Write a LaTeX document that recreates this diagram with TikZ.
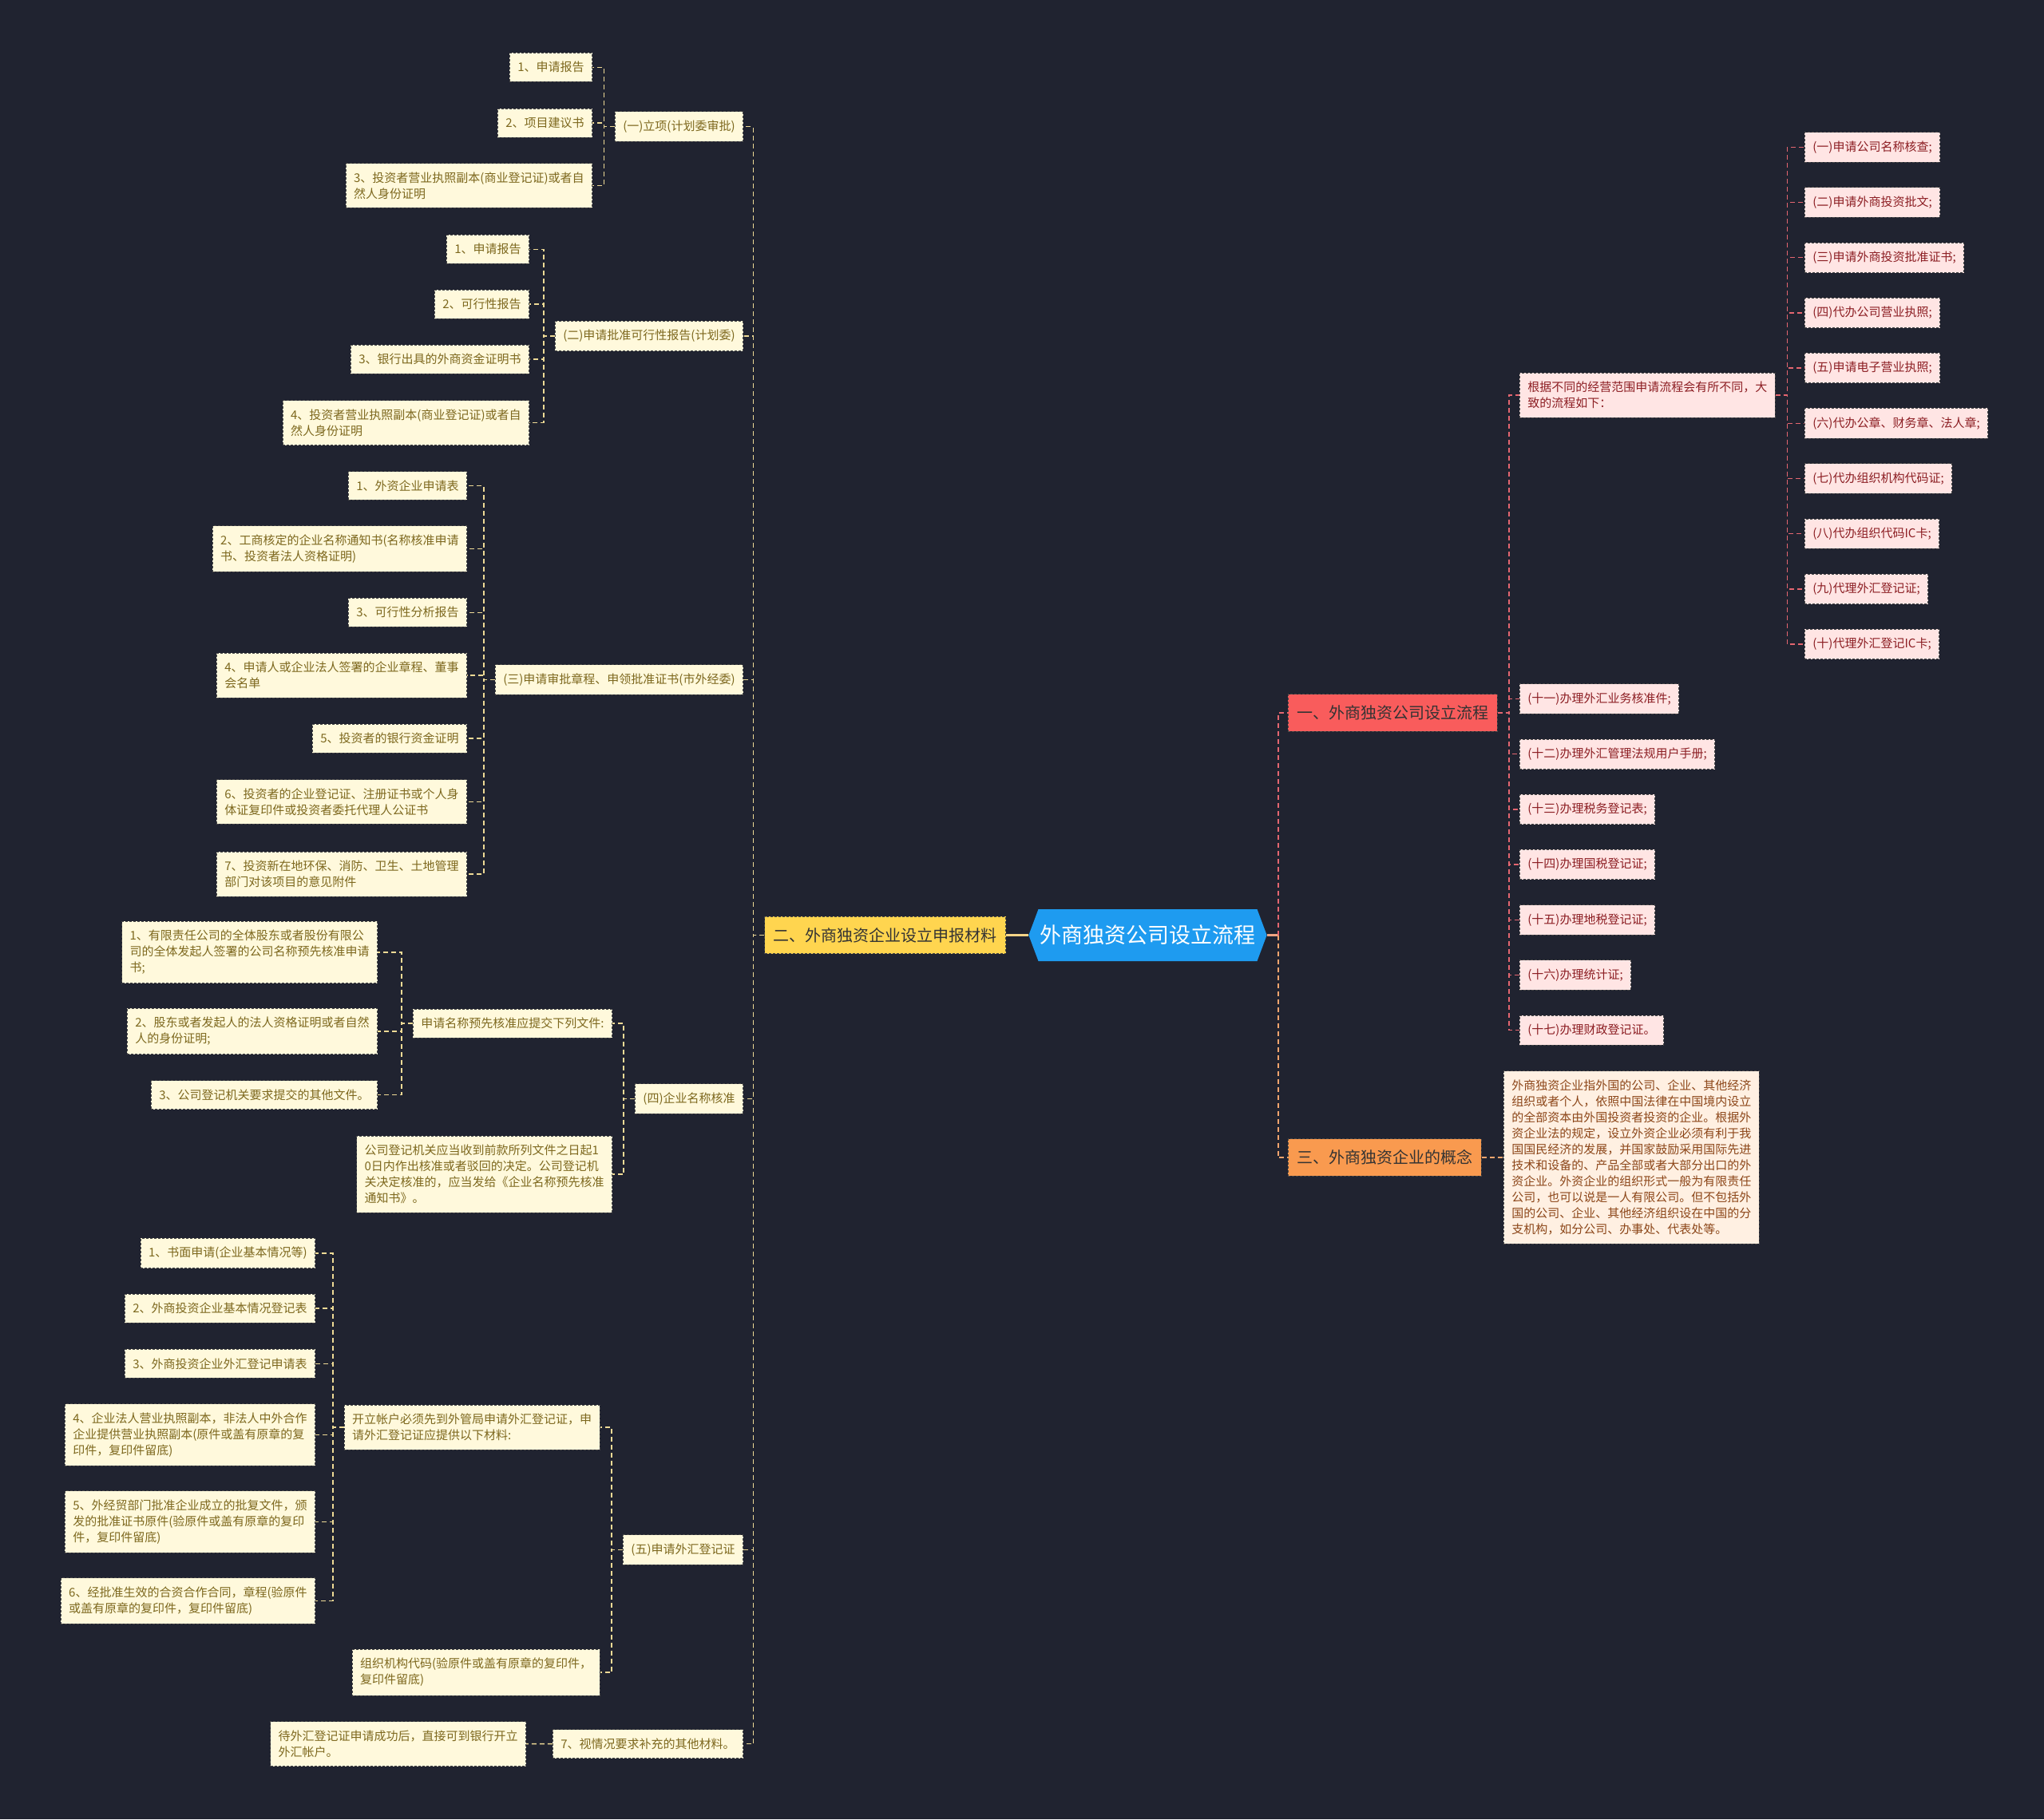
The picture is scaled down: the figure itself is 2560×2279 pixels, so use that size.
\documentclass[tikz,border=0pt]{standalone}
\usepackage{fontspec}
\newfontfamily\cjk{Noto Sans CJK SC}
\usepackage{tikz}
\usetikzlibrary{positioning, shapes.symbols}
\definecolor{bgc}{RGB}{32,35,48}
\definecolor{yfill}{RGB}{255,249,220}
\definecolor{ytext}{RGB}{125,104,30}
\definecolor{yline}{RGB}{238,218,150}
\definecolor{ytop}{RGB}{255,213,79}
\definecolor{rfill}{RGB}{255,229,228}
\definecolor{rtext}{RGB}{140,30,35}
\definecolor{rline}{RGB}{228,102,112}
\definecolor{rtop}{RGB}{249,92,92}
\definecolor{ofill}{RGB}{255,240,226}
\definecolor{otext}{RGB}{140,70,25}
\definecolor{oline}{RGB}{245,165,110}
\definecolor{otop}{RGB}{249,154,79}
\definecolor{rootc}{RGB}{30,155,240}
\definecolor{edgec}{RGB}{70,70,70}
\tikzstyle{leafy} = [
rectangle,
draw=edgec,
line width=0.8pt,
dash pattern=on 3pt off 2pt,
fill=yfill,
text=ytext,
font=\cjk\fontsize{15}{20}\selectfont,
align=left,
inner xsep=10pt,
inner ysep=11pt
]
\tikzstyle{leafr} = [leafy, fill=rfill, text=rtext]
\tikzstyle{leafo} = [leafy, fill=ofill, text=otext]
\tikzstyle{topbox} = [
rectangle,
draw=edgec,
line width=0.8pt,
dash pattern=on 3pt off 2pt,
text=black!80,
font=\cjk\fontsize{20}{24}\selectfont,
inner xsep=11pt,
inner ysep=14pt
]
\tikzstyle{rootbox} = [signal,
signal to=east and west,
signal pointer angle=139,
fill=rootc, text=white,
font=\cjk\fontsize{27}{32}\selectfont,
minimum height=65pt,
inner xsep=2pt]
\tikzstyle{linky} = [draw=yline, line width=1.5pt, dash pattern=on 6pt off 4pt]
\tikzstyle{linkr} = [linky, draw=rline]
\tikzstyle{linko} = [linky, draw=oline]

\begin{document}
\begin{tikzpicture}[x=1pt, y=-1pt]
      \fill [bgc] (0,0) rectangle (2560,2279);
      \node (root) [rootbox] at (1437.5,1171.5) {外商独资公司设立流程};
      \node (lvl2) [topbox, fill=ytop, left=28pt of root] {二、外商独资企业设立申报材料};
      \node (lvl1) [topbox, fill=rtop, anchor=west] at (1613,893) {一、外商独资公司设立流程};
      \node (lvl3) [topbox, fill=otop, anchor=west] at (1613,1450) {三、外商独资企业的概念};
      % left side
      \node (s1) [leafy, anchor=east] at (931,158.4) {(一)立项(计划委审批)};
      \node (s2) [leafy, anchor=east] at (931,421) {(二)申请批准可行性报告(计划委)};
      \node (s3) [leafy, anchor=east] at (931,851.5) {(三)申请审批章程、申领批准证书(市外经委)};
      \node (s4) [leafy, anchor=east] at (931,1376.5) {(四)企业名称核准};
      \node (s5) [leafy, anchor=east] at (931,1941.5) {(五)申请外汇登记证};
      \node (s6) [leafy, anchor=east] at (931,2184.7) {7、视情况要求补充的其他材料。};
      \node (s1a) [leafy, anchor=east] at (742,84.3) {1、申请报告};
      \node (s1b) [leafy, anchor=east] at (742,154) {2、项目建议书};
      \node (s1c) [leafy, anchor=east] at (742,232.5) {3、投资者营业执照副本(商业登记证)或者自\\然人身份证明};
      \node (s2a) [leafy, anchor=east] at (663,312.3) {1、申请报告};
      \node (s2b) [leafy, anchor=east] at (663,381) {2、可行性报告};
      \node (s2c) [leafy, anchor=east] at (663,450) {3、银行出具的外商资金证明书};
      \node (s2d) [leafy, anchor=east] at (663,529.5) {4、投资者营业执照副本(商业登记证)或者自\\然人身份证明};
      \node (s3a) [leafy, anchor=east] at (585,608.5) {1、外资企业申请表};
      \node (s3b) [leafy, anchor=east] at (585,687.5) {2、工商核定的企业名称通知书(名称核准申请\\书、投资者法人资格证明)};
      \node (s3c) [leafy, anchor=east] at (585,767.3) {3、可行性分析报告};
      \node (s3d) [leafy, anchor=east] at (585,846) {4、申请人或企业法人签署的企业章程、董事\\会名单};
      \node (s3e) [leafy, anchor=east] at (585,925) {5、投资者的银行资金证明};
      \node (s3f) [leafy, anchor=east] at (585,1004.5) {6、投资者的企业登记证、注册证书或个人身\\体证复印件或投资者委托代理人公证书};
      \node (s3g) [leafy, anchor=east] at (585,1095) {7、投资新在地环保、消防、卫生、土地管理\\部门对该项目的意见附件};
      \node (s4a) [leafy, anchor=east] at (767,1282) {申请名称预先核准应提交下列文件:};
      \node (s4b) [leafy, anchor=east] at (767,1471) {公司登记机关应当收到前款所列文件之日起1\\0日内作出核准或者驳回的决定。公司登记机\\关决定核准的，应当发给《企业名称预先核准\\通知书》。};
      \node (s4a1) [leafy, anchor=east] at (473,1193) {1、有限责任公司的全体股东或者股份有限公\\司的全体发起人签署的公司名称预先核准申请\\书;};
      \node (s4a2) [leafy, anchor=east] at (473,1292) {2、股东或者发起人的法人资格证明或者自然\\人的身份证明;};
      \node (s4a3) [leafy, anchor=east] at (473,1371.5) {3、公司登记机关要求提交的其他文件。};
      \node (s5a) [leafy, anchor=east] at (751.6,1788) {开立帐户必须先到外管局申请外汇登记证，申\\请外汇登记证应提供以下材料:};
      \node (s5b) [leafy, anchor=east] at (751.6,2095) {组织机构代码(验原件或盖有原章的复印件，\\复印件留底)};
      \node (s5a1) [leafy, anchor=east] at (395,1570) {1、书面申请(企业基本情况等)};
      \node (s5a2) [leafy, anchor=east] at (395,1639) {2、外商投资企业基本情况登记表};
      \node (s5a3) [leafy, anchor=east] at (395,1708.3) {3、外商投资企业外汇登记申请表};
      \node (s5a4) [leafy, anchor=east] at (395,1797.5) {4、企业法人营业执照副本，非法人中外合作\\企业提供营业执照副本(原件或盖有原章的复\\印件，复印件留底)};
      \node (s5a5) [leafy, anchor=east] at (395,1906.5) {5、外经贸部门批准企业成立的批复文件，颁\\发的批准证书原件(验原件或盖有原章的复印\\件，复印件留底)};
      \node (s5a6) [leafy, anchor=east] at (395,2005.5) {6、经批准生效的合资合作合同，章程(验原件\\或盖有原章的复印件，复印件留底)};
      \node (s6a) [leafy, anchor=east] at (659,2184.5) {待外汇登记证申请成功后，直接可到银行开立\\外汇帐户。};
      % right side
      \node (r1a) [leafr, anchor=west] at (1903,495) {根据不同的经营范围申请流程会有所不同，大\\致的流程如下：};
      \node (r11) [leafr, anchor=west] at (1903,875.5) {(十一)办理外汇业务核准件;};
      \node (r12) [leafr, anchor=west] at (1903,944.7) {(十二)办理外汇管理法规用户手册;};
      \node (r13) [leafr, anchor=west] at (1903,1013.9) {(十三)办理税务登记表;};
      \node (r14) [leafr, anchor=west] at (1903,1083.1) {(十四)办理国税登记证;};
      \node (r15) [leafr, anchor=west] at (1903,1152.3) {(十五)办理地税登记证;};
      \node (r16) [leafr, anchor=west] at (1903,1221.5) {(十六)办理统计证;};
      \node (r17) [leafr, anchor=west] at (1903,1290.7) {(十七)办理财政登记证。};
      \node (p1) [leafr, anchor=west] at (2260,184.3) {(一)申请公司名称核查;};
      \node (p2) [leafr, anchor=west] at (2260,253.5) {(二)申请外商投资批文;};
      \node (p3) [leafr, anchor=west] at (2260,322.7) {(三)申请外商投资批准证书;};
      \node (p4) [leafr, anchor=west] at (2260,391.9) {(四)代办公司营业执照;};
      \node (p5) [leafr, anchor=west] at (2260,461.1) {(五)申请电子营业执照;};
      \node (p6) [leafr, anchor=west] at (2260,530.3) {(六)代办公章、财务章、法人章;};
      \node (p7) [leafr, anchor=west] at (2260,599.5) {(七)代办组织机构代码证;};
      \node (p8) [leafr, anchor=west] at (2260,668.7) {(八)代办组织代码IC卡;};
      \node (p9) [leafr, anchor=west] at (2260,737.9) {(九)代理外汇登记证;};
      \node (p10) [leafr, anchor=west] at (2260,807.1) {(十)代理外汇登记IC卡;};
      \node (r3a) [leafo, anchor=west] at (1883,1450) {外商独资企业指外国的公司、企业、其他经济\\组织或者个人，依照中国法律在中国境内设立\\的全部资本由外国投资者投资的企业。根据外\\资企业法的规定，设立外资企业必须有利于我\\国国民经济的发展，并国家鼓励采用国际先进\\技术和设备的、产品全部或者大部分出口的外\\资企业。外资企业的组织形式一般为有限责任\\公司，也可以说是一人有限公司。但不包括外\\国的公司、企业、其他经济组织设在中国的分\\支机构，如分公司、办事处、代表处等。};
      % links
      \draw [draw={rgb,255:red,245;green,212;blue,135}, line width=2.5pt] (root.west) -- (lvl2.east);
      \draw [draw={rgb,255:red,240;green,165;blue,130}, line width=2.5pt] (root.east) -- ++(14,0) coordinate (rj);
      \draw [linkr] (rj) |- (lvl1.west);
      \draw [linko] (rj) |- (lvl3.west);
      \draw [linky] (lvl2.west) -- ++(-14,0) |- (s1.east);
      \draw [linky] (lvl2.west) -- ++(-14,0) |- (s2.east);
      \draw [linky] (lvl2.west) -- ++(-14,0) |- (s3.east);
      \draw [linky] (lvl2.west) -- ++(-14,0) |- (s4.east);
      \draw [linky] (lvl2.west) -- ++(-14,0) |- (s5.east);
      \draw [linky] (lvl2.west) -- ++(-14,0) |- (s6.east);
      \draw [linky] (s1.west) -- ++(-13.5,0) |- (s1a.east);
      \draw [linky] (s1.west) -- ++(-13.5,0) |- (s1b.east);
      \draw [linky] (s1.west) -- ++(-13.5,0) |- (s1c.east);
      \draw [linky] (s2.west) -- ++(-14,0) |- (s2a.east);
      \draw [linky] (s2.west) -- ++(-14,0) |- (s2b.east);
      \draw [linky] (s2.west) -- ++(-14,0) |- (s2c.east);
      \draw [linky] (s2.west) -- ++(-14,0) |- (s2d.east);
      \draw [linky] (s3.west) -- ++(-14,0) |- (s3a.east);
      \draw [linky] (s3.west) -- ++(-14,0) |- (s3b.east);
      \draw [linky] (s3.west) -- ++(-14,0) |- (s3c.east);
      \draw [linky] (s3.west) -- ++(-14,0) |- (s3d.east);
      \draw [linky] (s3.west) -- ++(-14,0) |- (s3e.east);
      \draw [linky] (s3.west) -- ++(-14,0) |- (s3f.east);
      \draw [linky] (s3.west) -- ++(-14,0) |- (s3g.east);
      \draw [linky] (s4.west) -- ++(-14,0) |- (s4a.east);
      \draw [linky] (s4.west) -- ++(-14,0) |- (s4b.east);
      \draw [linky] (s4a.west) -- ++(-14,0) |- (s4a1.east);
      \draw [linky] (s4a.west) -- ++(-14,0) |- (s4a2.east);
      \draw [linky] (s4a.west) -- ++(-14,0) |- (s4a3.east);
      \draw [linky] (s5.west) -- ++(-14,0) |- (s5a.east);
      \draw [linky] (s5.west) -- ++(-14,0) |- (s5b.east);
      \draw [linky] (s5a.west) -- ++(-14,0) |- (s5a1.east);
      \draw [linky] (s5a.west) -- ++(-14,0) |- (s5a2.east);
      \draw [linky] (s5a.west) -- ++(-14,0) |- (s5a3.east);
      \draw [linky] (s5a.west) -- ++(-14,0) |- (s5a4.east);
      \draw [linky] (s5a.west) -- ++(-14,0) |- (s5a5.east);
      \draw [linky] (s5a.west) -- ++(-14,0) |- (s5a6.east);
      \draw [linky] (s6.west) -- (s6a.east);
      \draw [linkr] (lvl1.east) -- ++(14,0) |- (r1a.west);
      \draw [linkr] (lvl1.east) -- ++(14,0) |- (r11.west);
      \draw [linkr] (lvl1.east) -- ++(14,0) |- (r12.west);
      \draw [linkr] (lvl1.east) -- ++(14,0) |- (r13.west);
      \draw [linkr] (lvl1.east) -- ++(14,0) |- (r14.west);
      \draw [linkr] (lvl1.east) -- ++(14,0) |- (r15.west);
      \draw [linkr] (lvl1.east) -- ++(14,0) |- (r16.west);
      \draw [linkr] (lvl1.east) -- ++(14,0) |- (r17.west);
      \draw [linkr] (r1a.east) -- ++(14.5,0) |- (p1.west);
      \draw [linkr] (r1a.east) -- ++(14.5,0) |- (p2.west);
      \draw [linkr] (r1a.east) -- ++(14.5,0) |- (p3.west);
      \draw [linkr] (r1a.east) -- ++(14.5,0) |- (p4.west);
      \draw [linkr] (r1a.east) -- ++(14.5,0) |- (p5.west);
      \draw [linkr] (r1a.east) -- ++(14.5,0) |- (p6.west);
      \draw [linkr] (r1a.east) -- ++(14.5,0) |- (p7.west);
      \draw [linkr] (r1a.east) -- ++(14.5,0) |- (p8.west);
      \draw [linkr] (r1a.east) -- ++(14.5,0) |- (p9.west);
      \draw [linkr] (r1a.east) -- ++(14.5,0) |- (p10.west);
      \draw [linko] (lvl3.east) -- (r3a.west);
\end{tikzpicture}
\end{document}
